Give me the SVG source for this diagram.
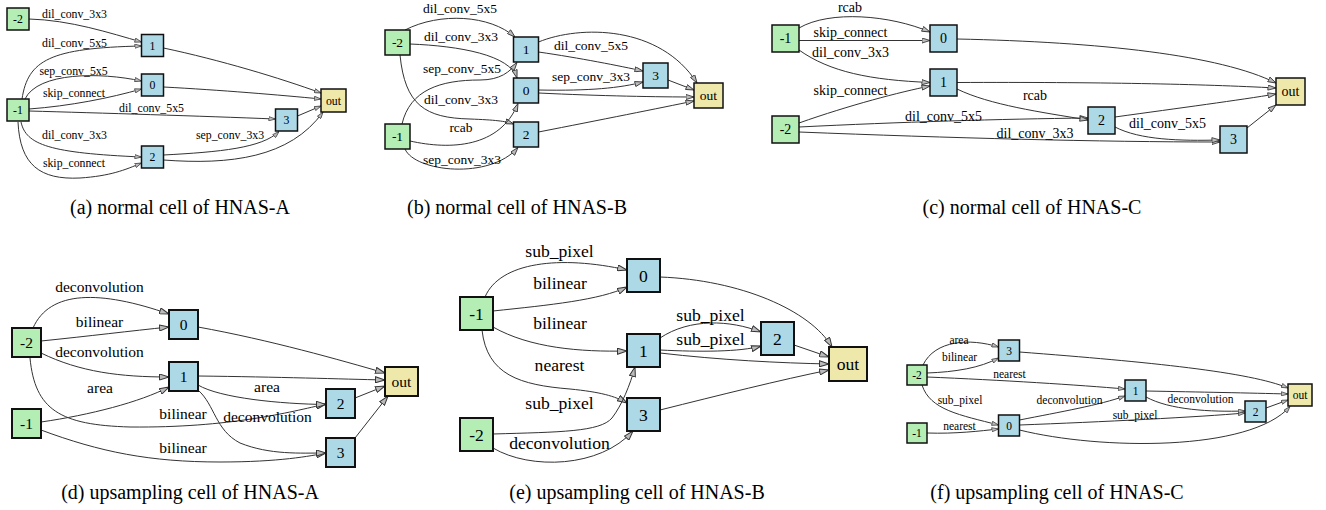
<svg xmlns="http://www.w3.org/2000/svg" width="1326" height="510" viewBox="0 0 1326 510">
<defs>
<style>
text{font-family:"Liberation Serif","Times New Roman",serif;fill:#000}
.lbl{text-anchor:middle}
.nl{text-anchor:middle;dominant-baseline:central}
.cap{text-anchor:middle;font-size:20px}
.g{fill:#b4eeb4;stroke:#111;stroke-width:1.5}
.b{fill:#add8e6;stroke:#111;stroke-width:1.5}
.o{fill:#eee8aa;stroke:#111;stroke-width:1.5}
.fd rect,.fe rect{stroke-width:2}
.e{fill:none;stroke:#333;stroke-width:1}
.s{marker-end:url(#ms)}
.m{marker-end:url(#mm)}
.l{marker-end:url(#ml)}
.fa{font-size:11.8px}
.fb{font-size:13.5px}
.fc{font-size:14px}
.fd{font-size:15.5px}
.fe{font-size:17.6px}
.ff{font-size:11.5px}
</style>
<marker id="ms" viewBox="0 0 10 7" refX="10" refY="3.5" markerWidth="7" markerHeight="5" markerUnits="userSpaceOnUse" orient="auto"><path d="M0.5,0.5 L10,3.5 L0.5,6.5 Z" fill="#bbb" stroke="#333" stroke-width="1"/></marker>
<marker id="mm" viewBox="0 0 10 7" refX="10" refY="3.5" markerWidth="8.5" markerHeight="6" markerUnits="userSpaceOnUse" orient="auto"><path d="M0.5,0.5 L10,3.5 L0.5,6.5 Z" fill="#bbb" stroke="#333" stroke-width="1"/></marker>
<marker id="ml" viewBox="0 0 10 7" refX="10" refY="3.5" markerWidth="10" markerHeight="7" markerUnits="userSpaceOnUse" orient="auto"><path d="M0.5,0.5 L10,3.5 L0.5,6.5 Z" fill="#bbb" stroke="#333" stroke-width="1"/></marker>
</defs>

<!-- Panel (a) -->
<g id="edges-a">
<path class="e s" d="M29,19 C70,20 110,33 141.5,42"/>
<path class="e s" d="M22,99 C28,60 50,48 141.5,46"/>
<path class="e s" d="M25,99 C38,72 100,72 141.5,81"/>
<path class="e s" d="M29,109 C70,106 110,98 141.5,89"/>
<path class="e s" d="M29,111 C100,113 200,116 275.5,119"/>
<path class="e s" d="M21,122 C26,145 50,153 141.5,157"/>
<path class="e s" d="M18,122 C20,165 40,180 80,178 C110,176 125,170 141.5,163"/>
<path class="e s" d="M163.5,48 C220,60 280,78 321,93"/>
<path class="e s" d="M163.5,87 C220,90 280,95 321,99"/>
<path class="e s" d="M297.5,116 L321,106"/>
<path class="e s" d="M163.5,155 C220,152 262,148 279,131.5"/>
<path class="e s" d="M163.5,160 C230,165 290,158 323,112"/>
</g>
<g class="fa">
<text class="lbl" x="74.5" y="17.5">dil_conv_3x3</text>
<text class="lbl" x="74.5" y="47">dil_conv_5x5</text>
<text class="lbl" x="73.5" y="75">sep_conv_5x5</text>
<text class="lbl" x="74" y="97">skip_connect</text>
<text class="lbl" x="151.5" y="111.5">dil_conv_5x5</text>
<text class="lbl" x="74.5" y="139">dil_conv_3x3</text>
<text class="lbl" x="230" y="139">sep_conv_3x3</text>
<text class="lbl" x="74" y="167">skip_connect</text>
</g>
<g id="a-n-2" class="fa"><rect class="g" x="7" y="8" width="22" height="22"/><text class="nl" x="18" y="19">-2</text></g>
<g id="a-n-1" class="fa"><rect class="g" x="7" y="99" width="22" height="22"/><text class="nl" x="18" y="110">-1</text></g>
<g id="a-n1" class="fa"><rect class="b" x="141.5" y="34.5" width="22" height="22"/><text class="nl" x="152.5" y="45.5">1</text></g>
<g id="a-n0" class="fa"><rect class="b" x="141.5" y="74" width="22" height="22"/><text class="nl" x="152.5" y="85">0</text></g>
<g id="a-n2" class="fa"><rect class="b" x="141.5" y="146" width="22" height="22"/><text class="nl" x="152.5" y="157">2</text></g>
<g id="a-n3" class="fa"><rect class="b" x="275.5" y="109" width="22" height="22"/><text class="nl" x="286.5" y="120">3</text></g>
<g id="a-out" class="fa"><rect class="o" x="321" y="89" width="25" height="23"/><text class="nl" x="333.5" y="100.5">out</text></g>

<!-- Panel (b) -->
<g id="edges-b">
<path class="e m" d="M405,30 C440,12 490,15 515,37"/>
<path class="e m" d="M410,44 C460,46 510,55 517,78"/>
<path class="e m" d="M402,124 C410,90 440,80 480,80 C500,80 510,72 517,62.5"/>
<path class="e m" d="M400,55 C405,105 425,118 470,119 C495,120 505,121 513.5,124"/>
<path class="e m" d="M410,141 C450,150 500,148 518,103.5"/>
<path class="e m" d="M405,149 C415,172 490,180 518,147.5"/>
<path class="e m" d="M538.5,42 C580,25 660,25 697,83"/>
<path class="e m" d="M538.5,52 C580,58 620,66 643,71"/>
<path class="e m" d="M538.5,90 C590,91 620,88 643,82"/>
<path class="e m" d="M538.5,93 C600,96 660,97 694,97"/>
<path class="e m" d="M538.5,132 C600,120 660,108 694,101"/>
<path class="e m" d="M668,80 L694,90"/>
</g>
<g class="fb">
<text class="lbl" x="460" y="13">dil_conv_5x5</text>
<text class="lbl" x="461" y="41">dil_conv_3x3</text>
<text class="lbl" x="462" y="72.5">sep_conv_5x5</text>
<text class="lbl" x="461" y="104">dil_conv_3x3</text>
<text class="lbl" x="461" y="132">rcab</text>
<text class="lbl" x="462" y="163.5">sep_conv_3x3</text>
<text class="lbl" x="591" y="49.5">dil_conv_5x5</text>
<text class="lbl" x="591" y="81">sep_conv_3x3</text>
</g>
<g id="b-n-2" class="fb"><rect class="g" x="385" y="30" width="25" height="25"/><text class="nl" x="397.5" y="42.5">-2</text></g>
<g id="b-n-1" class="fb"><rect class="g" x="385" y="124" width="25" height="25"/><text class="nl" x="397.5" y="136.5">-1</text></g>
<g id="b-n1" class="fb"><rect class="b" x="513.5" y="37" width="25" height="25"/><text class="nl" x="526" y="49.5">1</text></g>
<g id="b-n0" class="fb"><rect class="b" x="513.5" y="78" width="25" height="25"/><text class="nl" x="526" y="90.5">0</text></g>
<g id="b-n2" class="fb"><rect class="b" x="513.5" y="122" width="25" height="25"/><text class="nl" x="526" y="134.5">2</text></g>
<g id="b-n3" class="fb"><rect class="b" x="643" y="63" width="25" height="25"/><text class="nl" x="655.5" y="75.5">3</text></g>
<g id="b-out" class="fb"><rect class="o" x="694" y="83" width="29" height="25"/><text class="nl" x="708.5" y="95.5">out</text></g>

<!-- Panel (c) -->
<g id="edges-c">
<path class="e m" d="M799,28 C830,10 890,15 930,32"/>
<path class="e m" d="M799,40.5 L930,40.5"/>
<path class="e m" d="M799,50 C830,72 870,80 930,82.5"/>
<path class="e m" d="M799,123 C850,105 900,92 930,86"/>
<path class="e m" d="M799,127 C900,122 1000,119 1088,118"/>
<path class="e m" d="M799,132 C950,138 1100,142 1220,142"/>
<path class="e m" d="M957,39 C1100,42 1220,55 1276,83"/>
<path class="e m" d="M957,82.5 C1100,82 1200,84 1276,88"/>
<path class="e m" d="M957,89 C990,105 1040,112 1088,120"/>
<path class="e m" d="M1115,117 C1180,108 1240,100 1276,94"/>
<path class="e m" d="M1115,127 C1140,140 1180,141 1220,140"/>
<path class="e m" d="M1247,128 L1276,105"/>
</g>
<g class="fc">
<text class="lbl" x="850" y="12">rcab</text>
<text class="lbl" x="850.5" y="37">skip_connect</text>
<text class="lbl" x="850.5" y="57">dil_conv_3x3</text>
<text class="lbl" x="850.5" y="95">skip_connect</text>
<text class="lbl" x="1035" y="100">rcab</text>
<text class="lbl" x="943.5" y="120.5">dil_conv_5x5</text>
<text class="lbl" x="1035" y="137.5">dil_conv_3x3</text>
<text class="lbl" x="1167.5" y="127.5">dil_conv_5x5</text>
</g>
<g id="c-n-1" class="fc"><rect class="g" x="772" y="25" width="27" height="27"/><text class="nl" x="785.5" y="38.5">-1</text></g>
<g id="c-n-2" class="fc"><rect class="g" x="772" y="116" width="27" height="27"/><text class="nl" x="785.5" y="129.5">-2</text></g>
<g id="c-n0" class="fc"><rect class="b" x="930" y="25" width="27" height="27"/><text class="nl" x="943.5" y="38.5">0</text></g>
<g id="c-n1" class="fc"><rect class="b" x="930" y="69" width="27" height="27"/><text class="nl" x="943.5" y="82.5">1</text></g>
<g id="c-n2" class="fc"><rect class="b" x="1088" y="107" width="27" height="27"/><text class="nl" x="1101.5" y="120.5">2</text></g>
<g id="c-n3" class="fc"><rect class="b" x="1220" y="126" width="27" height="27"/><text class="nl" x="1233.5" y="139.5">3</text></g>
<g id="c-out" class="fc"><rect class="o" x="1276" y="78" width="29" height="27"/><text class="nl" x="1290.5" y="91.5">out</text></g>

<!-- Panel (d) -->
<g id="edges-d">
<path class="e l" d="M33,328 C50,290 100,290 169,314"/>
<path class="e l" d="M41,341 C90,336 130,331 169,327"/>
<path class="e l" d="M41,353 C80,372 120,377 169,377"/>
<path class="e l" d="M41,422 C90,415 140,402 169,387"/>
<path class="e l" d="M30,358 C35,410 60,425 130,427 C230,428 290,412 326,404"/>
<path class="e l" d="M41,430 C100,452 150,462 220,462 C280,462 310,456 326,453"/>
<path class="e l" d="M198,327 C270,340 340,360 385,373"/>
<path class="e l" d="M198,376 C280,377 340,379 385,380"/>
<path class="e l" d="M198,385 C220,398 280,404 326,404.5"/>
<path class="e l" d="M198,390 C215,405 215,430 240,443 C270,455 300,453 326,453"/>
<path class="e l" d="M355,398 L385,386"/>
<path class="e l" d="M355,438 L388,396"/>
</g>
<g class="fd">
<text class="lbl" x="99.5" y="291.5">deconvolution</text>
<text class="lbl" x="99.5" y="326.5">bilinear</text>
<text class="lbl" x="99.5" y="356.5">deconvolution</text>
<text class="lbl" x="100" y="392.5">area</text>
<text class="lbl" x="183" y="418.5">bilinear</text>
<text class="lbl" x="267" y="391.5">area</text>
<text class="lbl" x="267.5" y="421.5">deconvolution</text>
<text class="lbl" x="183" y="452.5">bilinear</text>
</g>
<g id="d-n-2" class="fd"><rect class="g" x="12" y="328" width="29" height="29"/><text class="nl" x="26.5" y="342.5">-2</text></g>
<g id="d-n-1" class="fd"><rect class="g" x="12" y="409" width="29" height="29"/><text class="nl" x="26.5" y="423.5">-1</text></g>
<g id="d-n0" class="fd"><rect class="b" x="169" y="310" width="29" height="29"/><text class="nl" x="183.5" y="324.5">0</text></g>
<g id="d-n1" class="fd"><rect class="b" x="169" y="362" width="29" height="29"/><text class="nl" x="183.5" y="376.5">1</text></g>
<g id="d-n2" class="fd"><rect class="b" x="326" y="389" width="29" height="29"/><text class="nl" x="340.5" y="403.5">2</text></g>
<g id="d-n3" class="fd"><rect class="b" x="326" y="438" width="29" height="29"/><text class="nl" x="340.5" y="452.5">3</text></g>
<g id="d-out" class="fd"><rect class="o" x="385" y="367" width="33" height="29"/><text class="nl" x="401.5" y="381.5">out</text></g>

<!-- Panel (e) -->
<g id="edges-e">
<path class="e l" d="M485,297 C500,262 560,255 627,270"/>
<path class="e l" d="M493,311 C550,305 600,300 627,287"/>
<path class="e l" d="M493,327 C530,348 580,352 627,351"/>
<path class="e l" d="M482,330 C487,375 520,385 570,389 C600,392 615,396 627,403"/>
<path class="e l" d="M493,434 C560,432 600,432 612,418 C622,405 630,385 635,367"/>
<path class="e l" d="M493,448 C530,470 600,468 633,431"/>
<path class="e l" d="M660,277 C740,280 810,310 832,347"/>
<path class="e l" d="M660,338 C690,318 730,320 761,332"/>
<path class="e l" d="M660,350 C700,352 740,352 761,346"/>
<path class="e l" d="M660,353 C720,360 780,363 829,364"/>
<path class="e l" d="M794,345 L829,357"/>
<path class="e l" d="M660,410 C720,395 780,380 829,370"/>
</g>
<g class="fe">
<text class="lbl" x="559.5" y="256.5">sub_pixel</text>
<text class="lbl" x="560" y="289">bilinear</text>
<text class="lbl" x="560" y="328.5">bilinear</text>
<text class="lbl" x="559.5" y="370.5">nearest</text>
<text class="lbl" x="559.5" y="408.5">sub_pixel</text>
<text class="lbl" x="559.5" y="448.5">deconvolution</text>
<text class="lbl" x="710.5" y="320.5">sub_pixel</text>
<text class="lbl" x="710.5" y="344.5">sub_pixel</text>
</g>
<g id="e-n-1" class="fe"><rect class="g" x="460" y="297" width="33" height="33"/><text class="nl" x="476.5" y="313.5">-1</text></g>
<g id="e-n-2" class="fe"><rect class="g" x="460" y="418" width="33" height="33"/><text class="nl" x="476.5" y="434.5">-2</text></g>
<g id="e-n0" class="fe"><rect class="b" x="627" y="259" width="33" height="33"/><text class="nl" x="643.5" y="275.5">0</text></g>
<g id="e-n1" class="fe"><rect class="b" x="627" y="334" width="33" height="33"/><text class="nl" x="643.5" y="350.5">1</text></g>
<g id="e-n3" class="fe"><rect class="b" x="627" y="398" width="33" height="33"/><text class="nl" x="643.5" y="414.5">3</text></g>
<g id="e-n2" class="fe"><rect class="b" x="761" y="322" width="33" height="33"/><text class="nl" x="777.5" y="338.5">2</text></g>
<g id="e-out" class="fe"><rect class="o" x="829" y="347" width="38" height="34"/><text class="nl" x="848" y="364">out</text></g>

<!-- Panel (f) -->
<g id="edges-f">
<path class="e s" d="M923,365 C935,340 970,338 998.5,347"/>
<path class="e s" d="M927,373 C955,372 980,368 998.5,358"/>
<path class="e s" d="M927,377 C1000,380 1080,385 1125,389"/>
<path class="e s" d="M922,385 C930,410 960,415 998.5,425"/>
<path class="e s" d="M927,433 C955,434 980,431 998.5,429"/>
<path class="e s" d="M1019.5,420 C1060,412 1100,405 1125,396"/>
<path class="e s" d="M1019.5,425 C1100,422 1200,417 1245,413"/>
<path class="e s" d="M1019.5,430 C1100,450 1250,452 1290,406.5"/>
<path class="e s" d="M1019.5,352 C1150,362 1250,372 1288,388"/>
<path class="e s" d="M1146,391 C1200,392 1250,393 1288,394"/>
<path class="e s" d="M1146,397 C1170,410 1210,412 1245,411"/>
<path class="e s" d="M1266,408 L1288,400"/>
</g>
<g class="ff">
<text class="lbl" x="959" y="344">area</text>
<text class="lbl" x="959.5" y="361">bilinear</text>
<text class="lbl" x="1009.5" y="378">nearest</text>
<text class="lbl" x="960" y="404">sub_pixel</text>
<text class="lbl" x="1069.5" y="404">deconvolution</text>
<text class="lbl" x="959.5" y="430">nearest</text>
<text class="lbl" x="1200.5" y="403">deconvolution</text>
<text class="lbl" x="1135" y="419">sub_pixel</text>
</g>
<g id="f-n-2" class="ff"><rect class="g" x="907" y="365" width="20" height="20"/><text class="nl" x="917" y="375">-2</text></g>
<g id="f-n-1" class="ff"><rect class="g" x="907" y="423" width="20" height="20"/><text class="nl" x="917" y="433">-1</text></g>
<g id="f-n3" class="ff"><rect class="b" x="998.5" y="340" width="21" height="21"/><text class="nl" x="1009" y="350.5">3</text></g>
<g id="f-n0" class="ff"><rect class="b" x="998.5" y="415" width="21" height="21"/><text class="nl" x="1009" y="425.5">0</text></g>
<g id="f-n1" class="ff"><rect class="b" x="1125" y="380" width="21" height="21"/><text class="nl" x="1135.5" y="390.5">1</text></g>
<g id="f-n2" class="ff"><rect class="b" x="1245" y="401" width="21" height="21"/><text class="nl" x="1255.5" y="411.5">2</text></g>
<g id="f-out" class="ff"><rect class="o" x="1288" y="384" width="24" height="22"/><text class="nl" x="1300" y="395">out</text></g>

<!-- Captions -->
<g id="captions">
<text class="cap" x="180" y="214">(a) normal cell of HNAS-A</text>
<text class="cap" x="517" y="214">(b) normal cell of HNAS-B</text>
<text class="cap" x="1032" y="214">(c) normal cell of HNAS-C</text>
<text class="cap" x="190" y="499">(d) upsampling cell of HNAS-A</text>
<text class="cap" x="637" y="499">(e) upsampling cell of HNAS-B</text>
<text class="cap" x="1057" y="499">(f) upsampling cell of HNAS-C</text>
</g>
</svg>
